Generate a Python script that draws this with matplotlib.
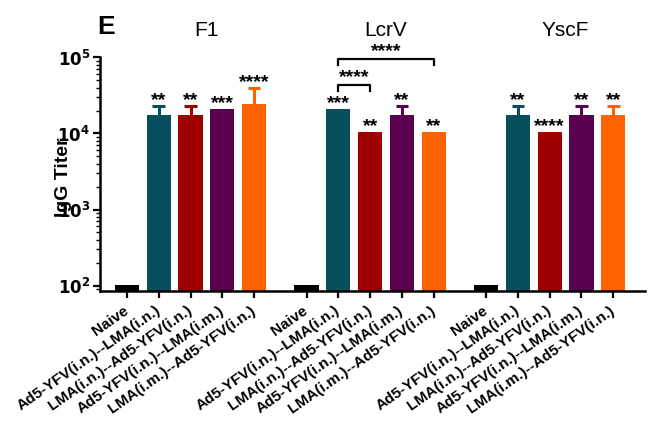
import matplotlib
matplotlib.use("Agg")
import matplotlib.pyplot as plt
import matplotlib.transforms as mtransforms
import numpy as np
from matplotlib.ticker import LogLocator, NullFormatter, FixedLocator

plt.rcParams['font.family'] = ['Liberation Sans', 'DejaVu Sans']

antigens = ["F1", "LcrV", "YscF"]
groups = ["Naive", "Ad5-YFV(i.n.)--LMA(i.n.)", "LMA(i.n.)--Ad5-YFV(i.n.)",
          "Ad5-YFV(i.n.)--LMA(i.m.)", "LMA(i.m.)--Ad5-YFV(i.n.)"]
colors = ["#000000", "#084f5e", "#9e0000", "#5c0050", "#ff6200"]

# mean titers per antigen (order of groups)
f1_vals = [100, 17300, 17300, 20900, 24400]
lcrv_vals = [100, 20900, 10400, 17300, 10400]
yscf_vals = [100, 17300, 10400, 17300, 17300]
# upper error bar tops (None = no visible bar)
f1_err = [None, 22700, 22700, None, 39100]
lcrv_err = [None, None, None, 22700, None]
yscf_err = [None, 22700, None, 22700, 22700]
# significance labels
f1_sig = ["", "**", "**", "***", "****"]
lcrv_sig = ["", "***", "**", "**", "**"]
yscf_sig = ["", "**", "****", "**", "**"]
# LcrV comparison brackets: (group i, group j, height, label)
lcrv_brackets = [(1, 2, 43700, "****"), (1, 4, 95000, "****")]

values = [f1_vals, lcrv_vals, yscf_vals]
errs = [f1_err, lcrv_err, yscf_err]
sigs = [f1_sig, lcrv_sig, yscf_sig]

fig = plt.figure(figsize=(6.49, 4.29), dpi=100)
ax = fig.add_axes([100/649, 138/429, 545/649, (291-57.3)/429])
blend = mtransforms.blended_transform_factory(ax.transData, fig.transFigure)

group_offset = 5.65
xticks = []
xlabels = []
centers = []
for gi, (vals, er, sg) in enumerate(zip(values, errs, sigs)):
    xs = np.arange(len(groups)) + gi * group_offset
    centers.append(xs)
    ax.bar(xs, vals, width=0.76, color=colors, bottom=1, zorder=2)
    for x, v, e, s, c in zip(xs, vals, er, sg, colors):
        top = v
        if e is not None:
            ax.plot([x, x], [v, e], color=c, lw=2.2, zorder=1, solid_capstyle='butt')
            ax.plot([x - 0.2, x + 0.2], [e, e], color=c, lw=2.2, zorder=1, solid_capstyle='butt')
            top = e
        if s:
            ax.annotate(s, (x, top), xytext=(0, -2), textcoords='offset points',
                        ha='center', va='bottom', fontsize=14, fontweight='bold')
    xticks.extend(xs)
    xlabels.extend(groups)
    ax.text(xs[1:].mean(), 1 - 30/429, antigens[gi], transform=blend,
            ha='center', va='center', fontsize=15, clip_on=False)

# brackets for LcrV
for i, j, h, lab in lcrv_brackets:
    xi, xj = centers[1][i], centers[1][j]
    hb = h / 1.2
    ax.plot([xi, xi, xj, xj], [hb, h, h, hb], color='black', lw=1.6, clip_on=False)
    ax.annotate(lab, ((xi + xj) / 2, h), xytext=(0, -1), textcoords='offset points',
                ha='center', va='bottom', fontsize=14, fontweight='bold',
                annotation_clip=False)

ax.set_yscale('log')
ax.set_ylim(10**1.93, 1e5)
ax.set_xlim(-0.85, xticks[-1] + 1.0)
ax.yaxis.set_major_locator(FixedLocator([1e2, 1e3, 1e4, 1e5]))
ax.yaxis.set_minor_locator(LogLocator(base=10, subs=np.arange(2, 10), numticks=20))
ax.yaxis.set_minor_formatter(NullFormatter())
ax.set_yticklabels([r"$\mathbf{10^2}$", r"$\mathbf{10^3}$", r"$\mathbf{10^4}$", r"$\mathbf{10^5}$"],
                   fontsize=12)

ax.set_xticks(xticks)
ax.set_xticklabels(xlabels, rotation=35, ha='right', va='center', rotation_mode='anchor',
                   fontsize=11, fontweight='bold')

for sp in ['top', 'right']:
    ax.spines[sp].set_visible(False)
for sp in ['left', 'bottom']:
    ax.spines[sp].set_linewidth(1.8)
ax.tick_params(axis='both', which='major', direction='out', length=5, width=1.6, pad=2)
ax.tick_params(axis='y', which='minor', direction='out', length=3, width=1.0)
ax.tick_params(axis='x', pad=8)

fig.text(63/649, 1 - 177/429, "IgG Titer", rotation=90, ha='center', va='center',
         fontsize=14, fontweight='bold', zorder=10)
fig.text(106/649, 1 - 27/429, "E", ha='center', va='center', fontsize=19,
         fontweight='bold')

fig.savefig("out.png", dpi=100)
